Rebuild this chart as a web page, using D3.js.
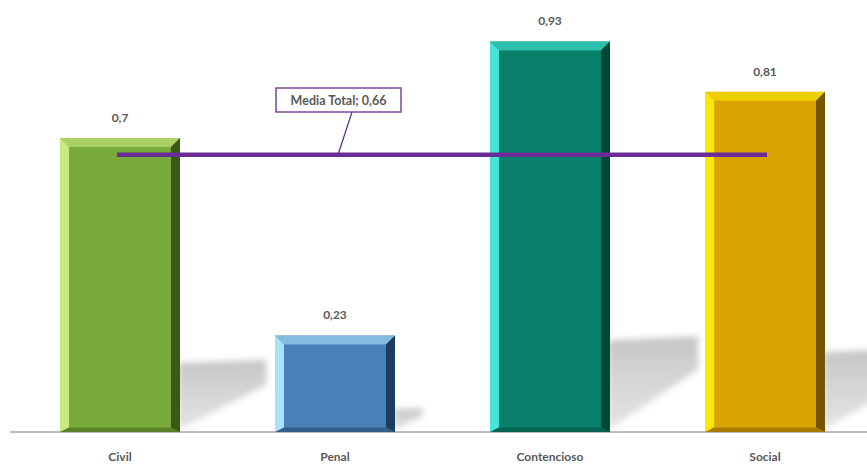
<!DOCTYPE html>
<html>
<head>
<meta charset="utf-8">
<script src="https://cdn.jsdelivr.net/npm/d3@7"></script>
<style>
  body { margin: 0; background: #fff; }
  text { font-family: Lato, "Open Sans", sans-serif; font-weight: bold; fill: #595959; }
</style>
</head>
<body>
<div id="chart"></div>
<script>
// data
var categories = ["Civil", "Penal", "Contencioso", "Social"];
var values = [0.7, 0.23, 0.93, 0.81];
var valueLabels = ["0,7", "0,23", "0,93", "0,81"];
var meanValue = 0.66;
var meanLabel = "Media Total; 0,66";

// colours per bar: main, light (left/top bevel), dark (right bevel)
var mainColors = ["#78ab3b", "#4a80b8", "#08806a", "#dba300"];
var lightColors = ["#d4f08a", "#b4ecff", "#4ff0e4", "#fff200"];
var darkColors = ["#3a5818", "#1e3d5e", "#024636", "#765500"];

var width = 867, height = 465;

var svg = d3.select("#chart").append("svg")
  .attr("width", width)
  .attr("height", height);

var defs = svg.append("defs");
defs.append("filter").attr("id", "blur")
  .attr("x", "-30%").attr("y", "-30%").attr("width", "160%").attr("height", "160%")
  .append("feGaussianBlur").attr("stdDeviation", 3);

var grad = defs.append("linearGradient").attr("id", "shadowGrad")
  .attr("x1", 0).attr("y1", 0).attr("x2", 0).attr("y2", 1);
grad.append("stop").attr("offset", "0%").attr("stop-color", "#c2c2c2").attr("stop-opacity", 0.95);
grad.append("stop").attr("offset", "100%").attr("stop-color", "#d2d2d2").attr("stop-opacity", 0.6);

var x = d3.scaleBand()
  .domain(categories)
  .range([12.5, 872.5])
  .paddingInner(0.442)
  .paddingOuter(0.221);

var y = d3.scaleLinear()
  .domain([0, 1])
  .range([432, 12]);

var base = y(0);

// shadows cast to the right of each bar
svg.append("g")
  .selectAll("path")
  .data(values)
  .enter().append("path")
  .attr("d", function(d, i) {
    var right = x(categories[i]) + x.bandwidth() - 2;
    var h = base - y(d);
    var w = Math.min(90, h * 0.3);
    return "M" + right + "," + (base - h * 0.235) +
      "L" + (right + w) + "," + (base - h * 0.245) +
      "L" + (right + w) + "," + (base - h * 0.16) +
      "L" + right + "," + (base - 2) + "Z";
  })
  .attr("fill", "url(#shadowGrad)")
  .attr("filter", "url(#blur)");

// axis line
svg.append("line")
  .attr("x1", 10).attr("x2", width)
  .attr("y1", base).attr("y2", base)
  .attr("stroke", "#a6a6a6")
  .attr("stroke-width", 1.5);

// bars with bevel
var bars = svg.append("g")
  .selectAll("g")
  .data(values)
  .enter().append("g");

var bev = 9;

bars.append("rect")
  .attr("x", function(d, i) { return x(categories[i]); })
  .attr("y", function(d) { return y(d); })
  .attr("width", x.bandwidth())
  .attr("height", function(d) { return base - y(d); })
  .attr("fill", function(d, i) { return mainColors[i]; });

// left bevel
bars.append("path")
  .attr("d", function(d, i) {
    var x0 = x(categories[i]), t = y(d);
    return "M" + x0 + "," + t + "L" + (x0 + bev) + "," + (t + bev) +
      "L" + (x0 + bev) + "," + (base - bev / 2) + "L" + x0 + "," + base + "Z";
  })
  .attr("fill", function(d, i) { return lightColors[i]; })
  .attr("opacity", 0.9);

// top bevel
bars.append("path")
  .attr("d", function(d, i) {
    var x0 = x(categories[i]), x1 = x0 + x.bandwidth(), t = y(d);
    return "M" + x0 + "," + t + "L" + x1 + "," + t +
      "L" + (x1 - bev) + "," + (t + bev) + "L" + (x0 + bev) + "," + (t + bev) + "Z";
  })
  .attr("fill", function(d, i) { return lightColors[i]; })
  .attr("opacity", 0.55);

// right bevel
bars.append("path")
  .attr("d", function(d, i) {
    var x1 = x(categories[i]) + x.bandwidth(), t = y(d);
    return "M" + x1 + "," + t + "L" + (x1 - bev) + "," + (t + bev) +
      "L" + (x1 - bev) + "," + (base - bev / 2) + "L" + x1 + "," + base + "Z";
  })
  .attr("fill", function(d, i) { return darkColors[i]; });

// bottom bevel
bars.append("path")
  .attr("d", function(d, i) {
    var x0 = x(categories[i]), x1 = x0 + x.bandwidth();
    return "M" + x0 + "," + base + "L" + (x0 + bev) + "," + (base - bev / 2) +
      "L" + (x1 - bev) + "," + (base - bev / 2) + "L" + x1 + "," + base + "Z";
  })
  .attr("fill", function(d, i) { return darkColors[i]; })
  .attr("opacity", 0.5);

// value labels
svg.append("g")
  .selectAll("text")
  .data(values)
  .enter().append("text")
  .attr("x", function(d, i) { return x(categories[i]) + x.bandwidth() / 2; })
  .attr("y", function(d) { return y(d) - 16; })
  .attr("text-anchor", "middle")
  .style("font-size", "12px")
  .text(function(d, i) { return valueLabels[i]; });

// category labels
svg.append("g")
  .selectAll("text")
  .data(categories)
  .enter().append("text")
  .attr("x", function(d) { return x(d) + x.bandwidth() / 2; })
  .attr("y", 461)
  .attr("text-anchor", "middle")
  .style("font-size", "12px")
  .text(function(d) { return d; });

// mean line
var mx0 = x(categories[0]) + x.bandwidth() / 2 - 3;
var mx1 = x(categories[categories.length - 1]) + x.bandwidth() / 2 + 2;
svg.append("line")
  .attr("x1", mx0).attr("x2", mx1)
  .attr("y1", y(meanValue)).attr("y2", y(meanValue))
  .attr("stroke", "#6a2d96")
  .attr("stroke-width", 4.5);

// leader line + label box
svg.append("line")
  .attr("x1", 338).attr("y1", y(meanValue))
  .attr("x2", 352).attr("y2", 112)
  .attr("stroke", "#5a2a78")
  .attr("stroke-width", 1.2);

svg.append("rect")
  .attr("x", 276).attr("y", 88)
  .attr("width", 125).attr("height", 24)
  .attr("fill", "#fff")
  .attr("stroke", "#7a4a98")
  .attr("stroke-width", 1.5);

svg.append("text")
  .attr("x", 338.5).attr("y", 105)
  .attr("text-anchor", "middle")
  .style("font-size", "12.5px")
  .text(meanLabel);
</script>
</body>
</html>
